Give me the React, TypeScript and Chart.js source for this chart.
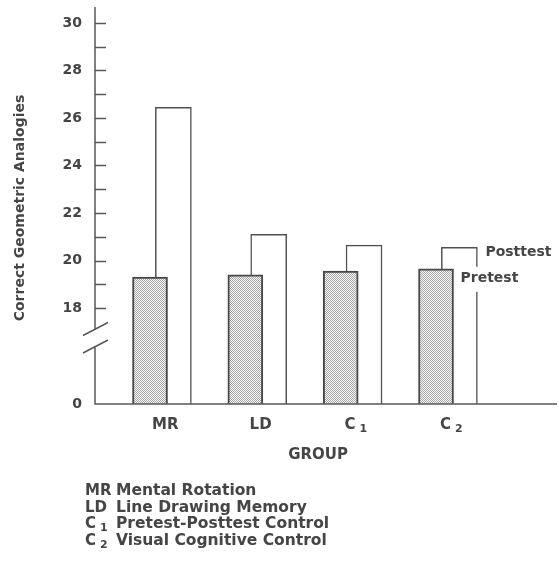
import React, { useEffect, useRef } from 'react';
import { Chart, registerables, LinearScale } from 'chart.js';

Chart.register(...registerables);

// ---------- data ----------
const GROUPS = ['MR', 'LD', 'C₁', 'C₂'];
const GROUP_NAMES = ['Mental Rotation', 'Line Drawing Memory', 'Pretest-Posttest Control', 'Visual Cognitive Control'];
const SERIES = ['Pretest', 'Posttest'];
const PRETEST = [19.3, 19.4, 19.55, 19.65];
const POSTTEST = [26.45, 21.1, 20.65, 20.55];
const Y_TICKS = [0, 18, 19, 20, 21, 22, 23, 24, 25, 26, 27, 28, 29, 30];
const Y_LABELED = [0, 18, 20, 22, 24, 26, 28, 30];
const X_TITLE = 'GROUP';
const Y_TITLE = 'Correct Geometric Analogies';

// ---------- styling ----------
const FONT = '"DejaVu Sans"';
const TEXT = '#454545';
const AXIS = '#585858';
const POST_SHIFT = 0.245; // posttest bar drawn behind, shifted right
const LABEL_SHIFT = 0.16;

// broken axis: 0 sits just below 18
const BREAK_LOW = 13.96;
const BREAK_AT = 18;
const fwd = (v: number) => (v >= BREAK_AT ? v : BREAK_LOW + (v * (BREAK_AT - BREAK_LOW)) / BREAK_AT);
const inv = (t: number) => (t >= BREAK_AT ? t : ((t - BREAK_LOW) * BREAK_AT) / (BREAK_AT - BREAK_LOW));

class BrokenLinearScale extends LinearScale {
  static id = 'brokenLinear';
  static defaults = LinearScale.defaults;
  getPixelForValue(v: any) {
    if (v === null || v === undefined) return NaN;
    return super.getPixelForValue(fwd(v));
  }
  getValueForPixel(p: number) {
    return inv(super.getValueForPixel(p) as number);
  }
}
Chart.register(BrokenLinearScale as any);

function drawCode(ctx: CanvasRenderingContext2D, text: string, x: number, y: number, size: number, align: 'left' | 'center') {
  const last = text.charCodeAt(text.length - 1);
  let base = text;
  let sub = '';
  if (last >= 0x2080 && last <= 0x2089) {
    base = text.slice(0, -1);
    sub = String(last - 0x2080);
  }
  ctx.font = `bold ${size}px ${FONT}`;
  const wb = ctx.measureText(base).width;
  const subSize = Math.round(size * 0.72);
  let ws = 0;
  const gap = sub ? 4 : 0;
  if (sub) {
    ctx.font = `bold ${subSize}px ${FONT}`;
    ws = ctx.measureText(sub).width;
  }
  const total = wb + gap + ws;
  const x0 = align === 'center' ? x - total / 2 : x;
  ctx.textAlign = 'left';
  ctx.textBaseline = 'middle';
  ctx.font = `bold ${size}px ${FONT}`;
  ctx.fillText(base, x0, y);
  if (sub) {
    ctx.font = `bold ${subSize}px ${FONT}`;
    ctx.fillText(sub, x0 + wb + gap, y + 4);
  }
}

const decorPlugin = {
  id: 'decor',
  afterDatasetsDraw(chart: any) {
    const { ctx, chartArea: ca, scales } = chart;
    const xs = scales.x;
    const ys = scales.y;
    const ax = ca.left;
    const ay = ca.bottom;
    const y18 = ys.getPixelForValue(BREAK_AT);
    ctx.save();

    // series labels near last group
    const postEl = chart.getDatasetMeta(1).data[GROUPS.length - 1];
    const preEl = chart.getDatasetMeta(0).data[GROUPS.length - 1];
    ctx.font = `bold 14px ${FONT}`;
    ctx.textAlign = 'left';
    ctx.textBaseline = 'middle';
    const preX = preEl.x + preEl.width / 2 + 7;
    const preY = preEl.y + 10;
    const preW = ctx.measureText(SERIES[0]).width;
    ctx.fillStyle = '#ffffff';
    ctx.fillRect(preX - 3, preY - 12, preW + 6, 25);
    ctx.fillStyle = TEXT;
    ctx.fillText(SERIES[0], preX, preY);
    ctx.fillText(SERIES[1], postEl.x + postEl.width / 2 + 8, postEl.y + 5);

    // axes with break
    ctx.strokeStyle = AXIS;
    ctx.lineWidth = 1.5;
    ctx.beginPath();
    ctx.moveTo(ax, ca.top);
    ctx.lineTo(ax, y18 + 21);
    ctx.moveTo(ax, y18 + 38);
    ctx.lineTo(ax, ay);
    ctx.lineTo(ca.right, ay);
    for (const off of [21, 38.5]) {
      ctx.moveTo(ax - 12, y18 + off + 6.5);
      ctx.lineTo(ax + 13, y18 + off - 6.5);
    }
    for (const v of Y_TICKS) {
      if (v >= BREAK_AT) {
        const py = Math.round(ys.getPixelForValue(v)) + 0.5;
        ctx.moveTo(ax, py);
        ctx.lineTo(ax + 11, py);
      }
    }
    ctx.stroke();

    // x category labels
    ctx.fillStyle = TEXT;
    GROUPS.forEach((g, i) => {
      drawCode(ctx, g, xs.getPixelForValue(i + LABEL_SHIFT), ay + 21, 15, 'center');
    });

    // x title
    ctx.font = `bold 15px ${FONT}`;
    ctx.textAlign = 'center';
    ctx.textBaseline = 'middle';
    ctx.fillText(X_TITLE, ca.left + (ca.right - ca.left) * 0.483, ay + 51);

    // y title
    ctx.save();
    ctx.translate(20, 208);
    ctx.rotate(-Math.PI / 2);
    ctx.font = `bold 14px ${FONT}`;
    ctx.textAlign = 'center';
    ctx.textBaseline = 'middle';
    ctx.fillText(Y_TITLE, 0, 0);
    ctx.restore();

    // group key
    GROUPS.forEach((g, i) => {
      const yy = ay + 87 + i * 16.7;
      drawCode(ctx, g, 85, yy, 15, 'left');
      ctx.font = `bold 15.5px ${FONT}`;
      ctx.textAlign = 'left';
      ctx.textBaseline = 'middle';
      ctx.fillText(GROUP_NAMES[i], 116, yy);
    });

    ctx.restore();
  },
};

export default function App() {
  const ref = useRef<HTMLCanvasElement>(null);
  useEffect(() => {
    const canvas = ref.current;
    if (!canvas) return;
    const pc = document.createElement('canvas');
    pc.width = 2;
    pc.height = 2;
    const pctx = pc.getContext('2d')!;
    pctx.fillStyle = '#fafafa';
    pctx.fillRect(0, 0, 2, 2);
    pctx.fillStyle = '#a6a6a6';
    pctx.fillRect(0, 0, 1, 1);
    pctx.fillRect(1, 1, 1, 1);
    const pattern = canvas.getContext('2d')!.createPattern(pc, 'repeat');

    const chart = new Chart(canvas, {
      type: 'bar',
      data: {
        datasets: [
          {
            label: SERIES[0],
            data: PRETEST.map((v, i) => ({ x: i, y: v })),
            backgroundColor: pattern as any,
            borderColor: '#474747',
            borderWidth: 2,
            barThickness: 35,
            borderSkipped: 'bottom',
          },
          {
            label: SERIES[1],
            data: POSTTEST.map((v, i) => ({ x: i + POST_SHIFT, y: v })),
            backgroundColor: '#ffffff',
            borderColor: '#505050',
            borderWidth: 1.5,
            barThickness: 36,
            borderSkipped: 'bottom',
          },
        ],
      },
      options: {
        animation: false,
        responsive: true,
        maintainAspectRatio: false,
        layout: { padding: { left: 0, top: 7, right: 2, bottom: 166 } },
        plugins: { legend: { display: false }, tooltip: { enabled: false } },
        datasets: { bar: { grouped: false } } as any,
        scales: {
          x: {
            type: 'linear',
            display: false,
            offset: false,
            min: -0.577,
            max: 4.269,
          },
          y: {
            type: 'brokenLinear' as any,
            position: 'left',
            min: BREAK_LOW,
            max: 30.67,
            bounds: 'data',
            grid: { display: false, drawTicks: false },
            border: { display: false },
            afterFit: (s: any) => {
              s.width = 95;
              s.paddingTop = 0;
              s.paddingBottom = 0;
            },
            afterBuildTicks: (s: any) => {
              s.ticks = Y_TICKS.map((v) => ({ value: v }));
            },
            ticks: {
              autoSkip: false,
              padding: 13,
              color: TEXT,
              font: { family: 'DejaVu Sans', weight: 'bold', size: 14 },
              callback: (v: any) => (Y_LABELED.includes(Number(v)) ? String(v) : ''),
            },
          } as any,
        },
      },
      plugins: [decorPlugin],
    });
    return () => chart.destroy();
  }, []);

  return (
    <div style={{ position: 'absolute', left: 0, top: 0, width: 559, height: 570, background: '#fff' }}>
      <canvas ref={ref} />
    </div>
  );
}
